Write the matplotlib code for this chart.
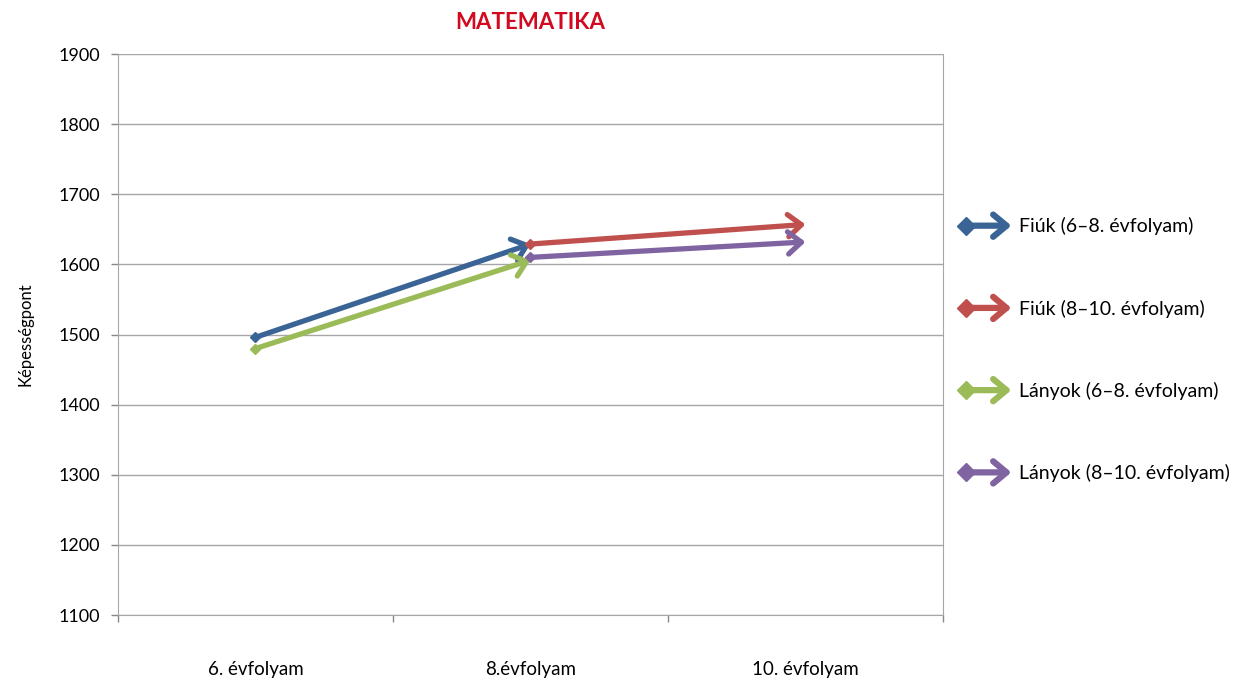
import matplotlib.pyplot as plt
from matplotlib.legend_handler import HandlerBase
from matplotlib.lines import Line2D
from matplotlib.patches import FancyArrowPatch

plt.rcParams['font.family'] = ['Lato', 'DejaVu Sans']

categories = ['6. évfolyam', '8.évfolyam', '10. évfolyam']
series_names = ['Fiúk (6–8. évfolyam)', 'Fiúk (8–10. évfolyam)',
                'Lányok (6–8. évfolyam)', 'Lányok (8–10. évfolyam)']
series_x = [(0, 1), (1, 2), (0, 1), (1, 2)]
series_y = [(1496, 1629), (1629, 1657), (1480, 1606), (1610, 1632)]
colors = ['#3A6496', '#C0504D', '#9BBB59', '#8064A2']


class HandlerArrow(HandlerBase):
    def create_artists(self, legend, orig, xd, yd, w, h, fontsize, trans):
        c = orig.get_color()
        y = h / 2 - yd
        arr = FancyArrowPatch((-xd + 6, y), (-xd + w, y), arrowstyle='->,head_length=0.6,head_width=0.5',
                              color=c, lw=4.5, mutation_scale=16, shrinkA=0, shrinkB=0,
                              capstyle='round', joinstyle='round', transform=trans)
        dm = Line2D([-xd + 6], [y], marker='D', color=c, markersize=9, lw=0, transform=trans)
        return [arr, dm]


fig = plt.figure(figsize=(12.33, 6.81), dpi=100)
ax = fig.add_axes([0.0957, 0.0969, 0.6691, 0.8238])

handles = []
for name, xs, ys, c in zip(series_names, series_x, series_y, colors):
    ax.annotate('', xy=(xs[1], ys[1]), xytext=(xs[0], ys[0]),
                arrowprops=dict(arrowstyle='->,head_length=0.6,head_width=0.5', color=c, lw=3.8,
                                mutation_scale=16, shrinkA=0, shrinkB=0,
                                capstyle='round', joinstyle='round'), zorder=3)
    ax.plot([xs[0]], [ys[0]], marker='D', color=c, markersize=5.5, zorder=4)
    handles.append(Line2D([], [], color=c, label=name))

ax.set_xlim(-0.5, 2.5)
ax.set_ylim(1100, 1900)
ax.set_yticks(range(1100, 2000, 100))
ax.set_xticks(range(len(categories)))
ax.set_xticklabels(categories, fontsize=13.5)
ax.set_xticks([-0.5, 0.5, 1.5, 2.5], minor=True)
ax.tick_params(axis='x', which='major', length=0, pad=33)
ax.tick_params(axis='x', which='minor', length=5, color='#888888', width=1)
ax.tick_params(axis='y', length=5, color='#888888', width=1, labelsize=13, pad=8)
ax.grid(axis='y', color='#A6A6A6', lw=1)
ax.set_axisbelow(True)
for s in ['left', 'bottom', 'right']:
    ax.spines[s].set_color('#A6A6A6')
ax.spines['top'].set_visible(False)

ax.set_ylabel('Képességpont', fontsize=12, labelpad=18)
ax.set_title('MATEMATIKA', color='#D2091F', fontweight='bold', fontsize=16, pad=18)

fig.legend(handles=handles, handler_map={Line2D: HandlerArrow()}, loc='upper left',
           bbox_to_anchor=(0.769, 0.695), frameon=False, fontsize=14, borderpad=0,
           labelspacing=3.3, handlelength=2.75, handletextpad=0.4)

fig.savefig('out.png', dpi=100)
